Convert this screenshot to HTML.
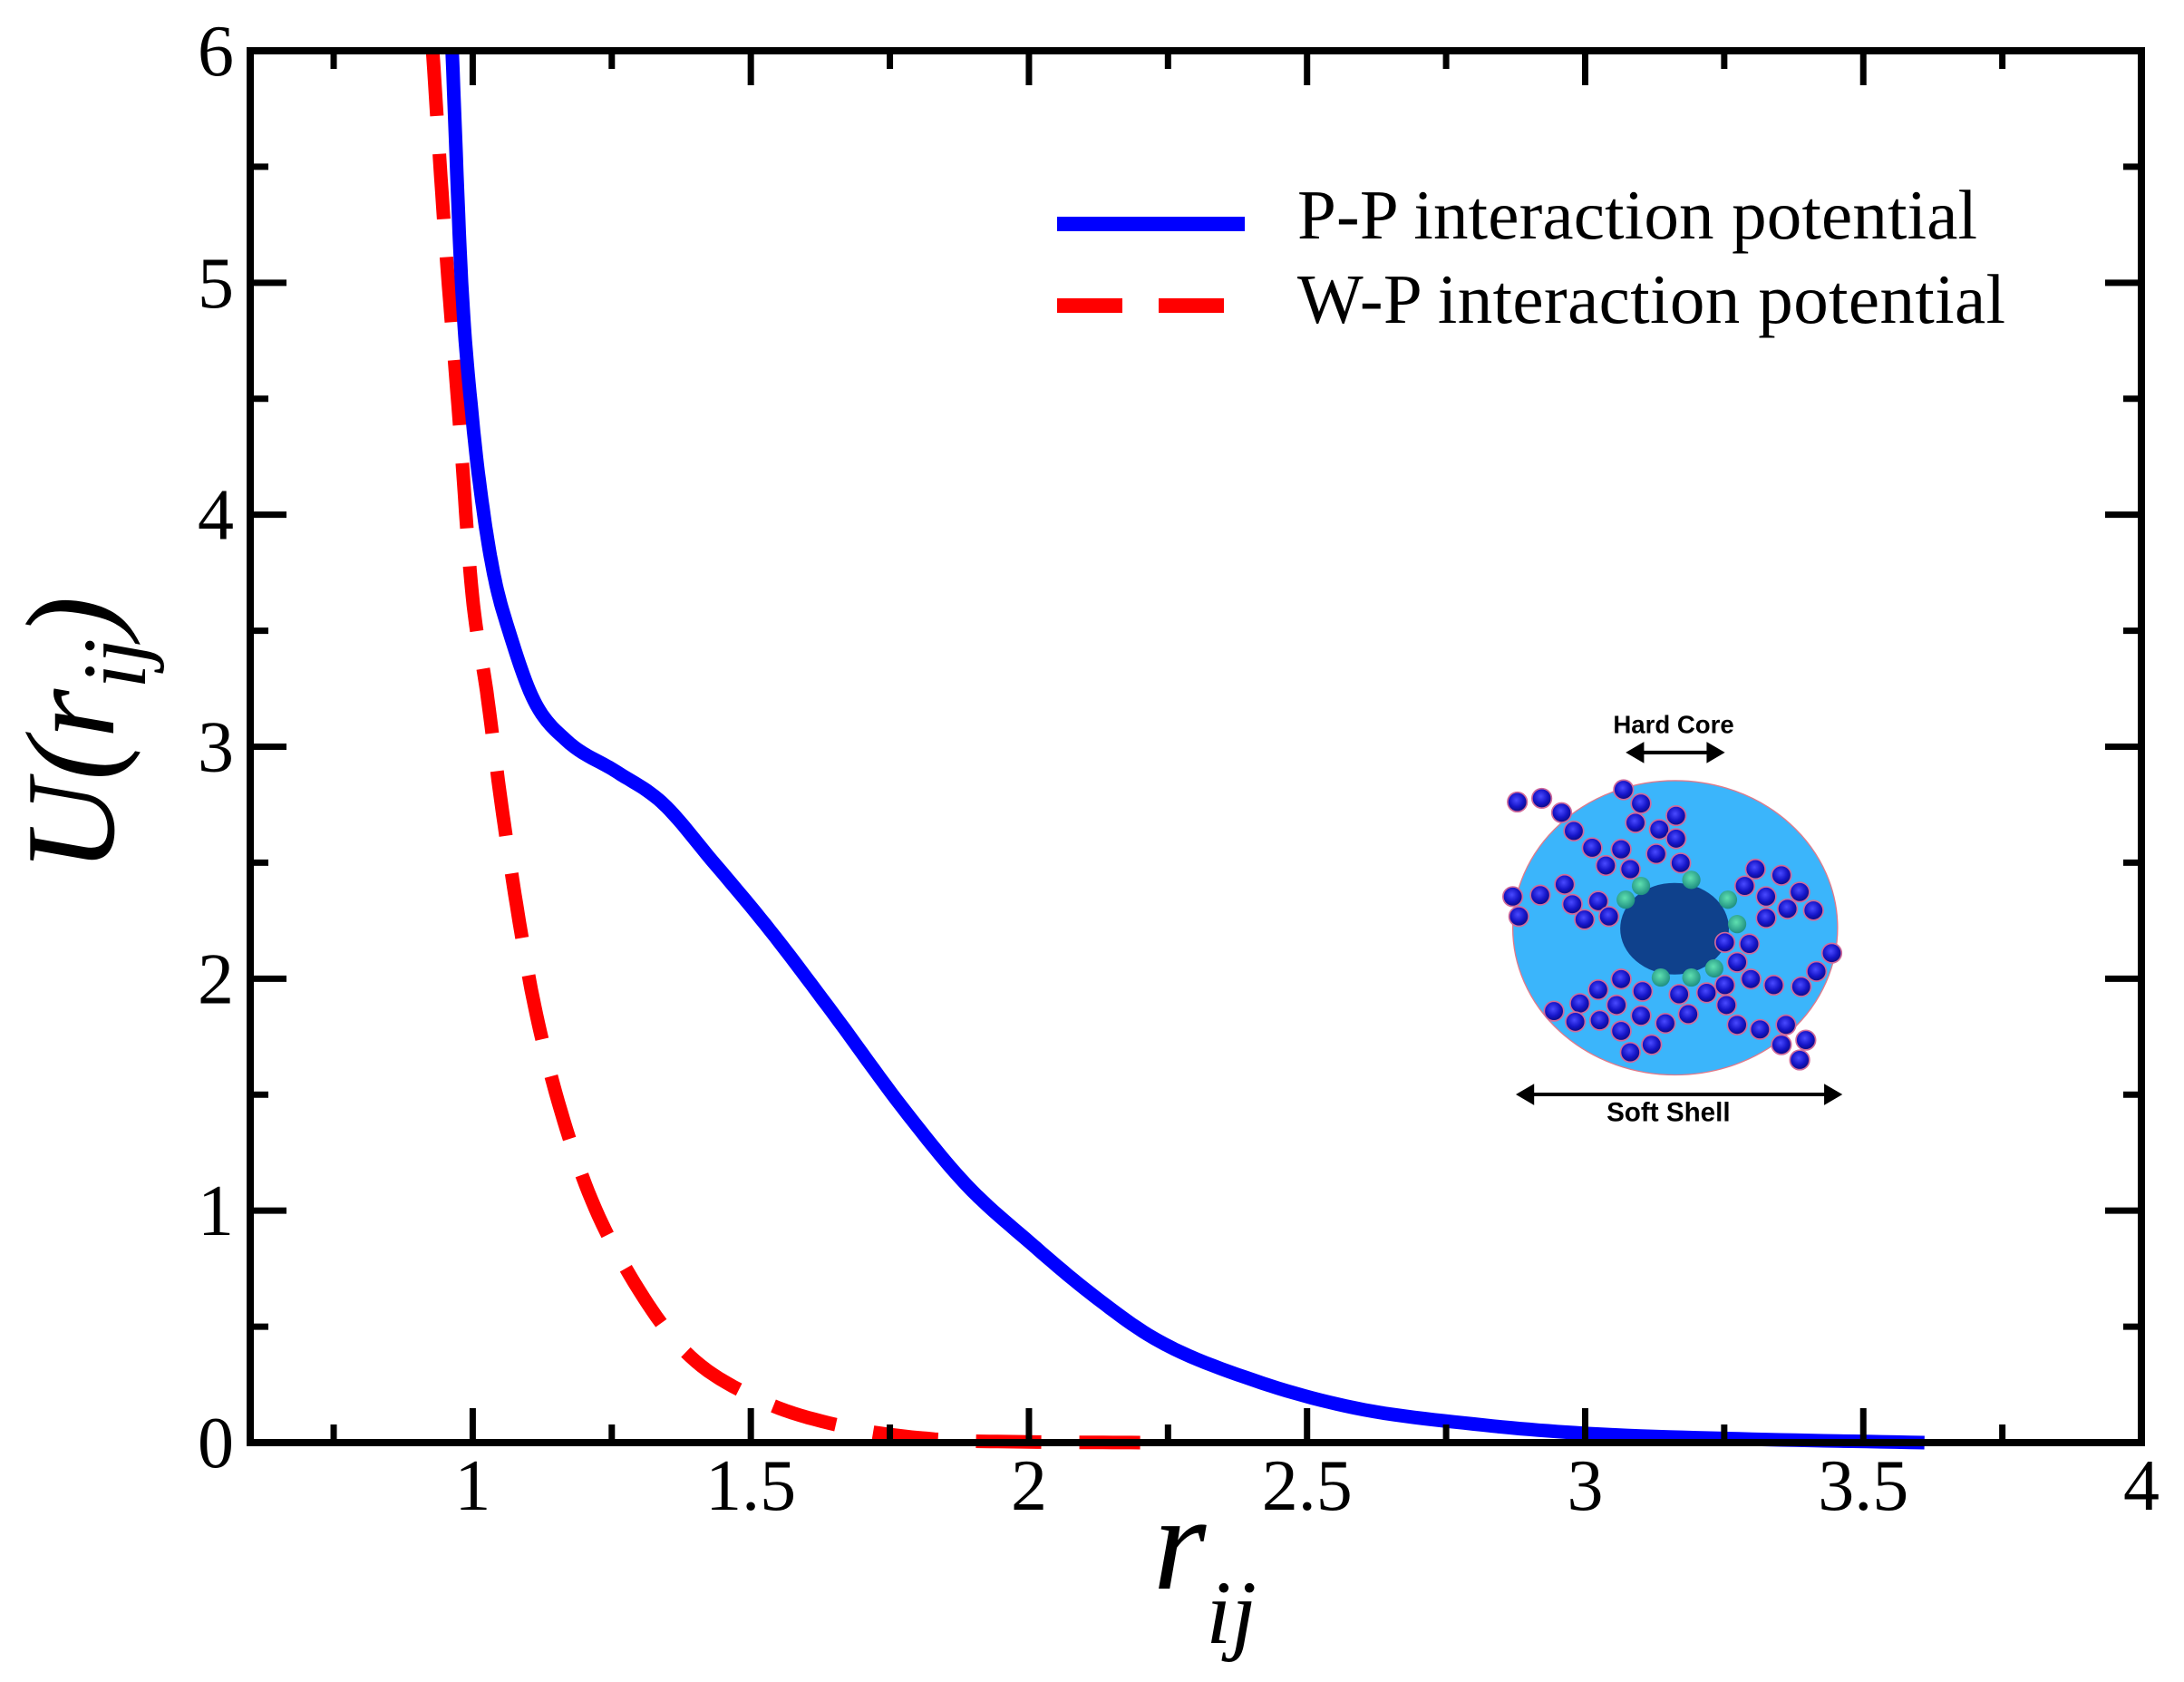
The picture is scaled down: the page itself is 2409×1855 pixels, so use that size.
<!DOCTYPE html>
<html><head><meta charset="utf-8"><style>
html,body{margin:0;padding:0;background:#fff;}
svg{display:block;}
</style></head><body>
<svg id="chart" width="2409" height="1855" viewBox="0 0 2409 1855" xmlns="http://www.w3.org/2000/svg">
<rect x="0" y="0" width="2409" height="1855" fill="#fff"/>
<g id="plot"></g>
<g id="axes"></g>
<g id="legend">
  <line x1="1166" y1="247" x2="1373" y2="247" stroke="#0000ff" stroke-width="16"/>
  <text x="1431" y="263" font-family="'Liberation Serif',serif" font-size="77" textLength="750">P-P interaction potential</text>
  <line x1="1166" y1="337" x2="1352" y2="337" stroke="#ff0000" stroke-width="16" stroke-dasharray="72 40"/>
  <text x="1431" y="356" font-family="'Liberation Serif',serif" font-size="77" textLength="781">W-P interaction potential</text>
</g>
<text transform="translate(125,962) rotate(-90)" font-family="'Liberation Serif',serif" font-style="italic" font-size="140">U(r<tspan font-size="100" dy="35">ij</tspan><tspan dy="-35">)</tspan></text>
<text x="1272" y="1752" font-family="'Liberation Serif',serif" font-style="italic" font-size="150">r<tspan font-size="100" dy="60">ij</tspan></text>
<g id="inset" transform="translate(1640,770) scale(0.3367)"></g>
</svg>
<script>
// ---- data ----
const ppR = [0.963,0.98,1.0,1.02,1.04,1.065,1.11,1.167,1.26,1.34,1.43,1.534,1.648,1.774,1.888,2.003,2.118,2.232,2.403,2.585,2.8,3.0,3.3,3.61];
const ppU = [6.0,5.0,4.4,4.0,3.72,3.5,3.2,3.03,2.89,2.76,2.51,2.21,1.85,1.44,1.11,0.86,0.63,0.44,0.27,0.15,0.08,0.04,0.015,0.0];
const wpR = [0.928,0.95,0.976,0.999,1.025,1.05,1.076,1.108,1.149,1.208,1.283,1.379,1.511,1.666,1.83,2.0,2.2];
const wpU = [6.0,5.2,4.4,3.66,3.24,2.78,2.36,1.92,1.51,1.08,0.72,0.40,0.19,0.07,0.015,0.003,0.0];
const xTicks = [1,1.5,2,2.5,3,3.5,4];
const xTickLabels = ["1","1.5","2","2.5","3","3.5","4"];
const yTicks = [0,1,2,3,4,5,6];
const yTickLabels = ["0","1","2","3","4","5","6"];

const NS = "http://www.w3.org/2000/svg";
const X0 = 276, X1 = 2362, Y0 = 1591, Y1 = 56;
const xMin = 0.6, xMax = 4, yMin = 0, yMax = 6;
function sx(v){ return X0 + (v - xMin) / (xMax - xMin) * (X1 - X0); }
function sy(v){ return Y0 - (v - yMin) / (yMax - yMin) * (Y0 - Y1); }
function mk(tag, attrs, parent){ const e = document.createElementNS(NS, tag); for (const k in attrs) e.setAttribute(k, attrs[k]); parent.appendChild(e); return e; }

// monotone cubic (Fritsch-Carlson) in data space, sampled
function monoPath(xs, ys){
  const n = xs.length, d = [], m = [];
  for (let i=0;i<n-1;i++) d.push((ys[i+1]-ys[i])/(xs[i+1]-xs[i]));
  m.push(d[0]);
  for (let i=1;i<n-1;i++) m.push(d[i-1]*d[i] <= 0 ? 0 : (d[i-1]+d[i])/2);
  m.push(d[n-2]);
  for (let i=0;i<n-1;i++){
    if (d[i] === 0){ m[i]=0; m[i+1]=0; continue; }
    const a = m[i]/d[i], b = m[i+1]/d[i], s = a*a+b*b;
    if (s > 9){ const t = 3/Math.sqrt(s); m[i]=t*a*d[i]; m[i+1]=t*b*d[i]; }
  }
  let path = "M" + sx(xs[0]).toFixed(1) + "," + sy(ys[0]).toFixed(1);
  for (let i=0;i<n-1;i++){
    const h = xs[i+1]-xs[i];
    for (let k=1;k<=12;k++){
      const t = k/12, t2=t*t, t3=t2*t;
      const y = (2*t3-3*t2+1)*ys[i] + (t3-2*t2+t)*h*m[i] + (-2*t3+3*t2)*ys[i+1] + (t3-t2)*h*m[i+1];
      path += " L" + sx(xs[i]+t*h).toFixed(1) + "," + sy(y).toFixed(1);
    }
  }
  return path;
}
const plot = document.getElementById('plot');
const clip = mk('clipPath', {id:'clp'}, plot);
mk('rect', {x:X0, y:Y1, width:X1-X0, height:Y0-Y1+10}, clip);
const wp = mk('path', {d:monoPath(wpR, wpU), fill:'none', stroke:'#ff0000', 'stroke-width':15, 'stroke-dasharray':'72 42', 'stroke-linejoin':'round', 'clip-path':'url(#clp)'}, plot);


const pp = mk('path', {d:monoPath(ppR, ppU), fill:'none', stroke:'#0000ff', 'stroke-width':15, 'stroke-linejoin':'round', 'clip-path':'url(#clp)'}, plot);



// ---- axes ----
const axes = document.getElementById('axes');
const frame = mk('rect', {x:X0, y:Y1, width:X1-X0, height:Y0-Y1, fill:'none', stroke:'#000', 'stroke-width':8}, axes);


for (let v = 0.75; v <= 3.76; v += 0.25){
  const major = Math.abs(v*2 - Math.round(v*2)) < 1e-6;
  const L = major ? 38 : 20;
  const t1 = mk('line', {x1:sx(v), x2:sx(v), y1:Y0, y2:Y0-L, stroke:'#000', 'stroke-width':7}, axes);
  
  
  const t2 = mk('line', {x1:sx(v), x2:sx(v), y1:Y1, y2:Y1+L, stroke:'#000', 'stroke-width':7}, axes);
  
  
}
for (let v = 0.5; v < 6; v += 0.5){
  const major = Math.abs(v - Math.round(v)) < 1e-6;
  const L = major ? 40 : 20;
  const t1 = mk('line', {x1:X0, x2:X0+L, y1:sy(v), y2:sy(v), stroke:'#000', 'stroke-width':7}, axes);
  
  
  const t2 = mk('line', {x1:X1, x2:X1-L, y1:sy(v), y2:sy(v), stroke:'#000', 'stroke-width':7}, axes);
  
  
}
xTicks.forEach((v,i)=>{
  const t = mk('text', {x:sx(v), y:1665, 'text-anchor':'middle', 'font-family':"'Liberation Serif',serif", 'font-size':80}, axes);
  t.textContent = xTickLabels[i];
  
  
});
yTicks.forEach((v,i)=>{
  const t = mk('text', {x:258, y:sy(v)+27, 'text-anchor':'end', 'font-family':"'Liberation Serif',serif", 'font-size':80}, axes);
  t.textContent = yTickLabels[i];
  
  
});

// ---- inset illustration ----
const inset = document.getElementById('inset');
const defs = mk('defs', {}, inset);
const g1 = mk('radialGradient', {id:'bead', cx:'0.45', cy:'0.4', r:'0.6'}, defs);
mk('stop', {offset:'0', 'stop-color':'#4a4aff'}, g1);
mk('stop', {offset:'0.6', 'stop-color':'#1515c8'}, g1);
mk('stop', {offset:'1', 'stop-color':'#0a0a80'}, g1);
const g2 = mk('radialGradient', {id:'gbead', cx:'0.45', cy:'0.4', r:'0.6'}, defs);
mk('stop', {offset:'0', 'stop-color':'#5fe0b0'}, g2);
mk('stop', {offset:'1', 'stop-color':'#1f8f80'}, g2);
const shell = mk('ellipse', {cx:617, cy:752, rx:532, ry:482, fill:'#3bb5fb', stroke:'#e07a8a', 'stroke-width':4}, inset);


const core = mk('ellipse', {cx:615, cy:755, rx:178, ry:150, fill:'#0f418c'}, inset);


const beadPos = [[100,340],[180,328],[245,375],[285,435],[345,490],[390,548],[440,495],[470,560],[448,300],[505,345],[487,408],[565,430],[620,385],[620,460],[555,510],[635,540],
[85,650],[105,715],[175,645],[255,610],[280,675],[320,725],[365,665],[400,715],
[880,560],[965,580],[845,615],[915,650],[1025,635],[985,690],[1070,695],[915,720],
[860,805],[820,865],[780,800],[1130,835],[1080,895],[1030,945],[940,940],[865,920],[780,940],[720,965],[630,970],[510,960],[440,920],[365,955],[305,1000],[220,1025],[290,1060],[370,1055],[425,1005],[505,1040],[585,1065],[660,1035],[785,1005],[820,1070],[895,1085],[980,1070],[965,1135],[1045,1120],[1025,1185],[540,1135],[470,1160],[440,1090]];
beadPos.forEach(p=>{
  const c = mk('circle', {cx:p[0], cy:p[1], r:32, fill:'url(#bead)', stroke:'#d06a9a', 'stroke-width':5}, inset);
  
  
});
const gPos = [[455,660],[505,615],[670,595],[790,660],[820,740],[745,885],[670,915],[570,915]];
gPos.forEach(p=>{
  const c = mk('circle', {cx:p[0], cy:p[1], r:30, fill:'url(#gbead)'}, inset);
  
  
});
function arrow(x1, x2, y, name){
  const g = mk('g', {}, inset);
  
  
  mk('line', {x1:x1+40, x2:x2-40, y1:y, y2:y, stroke:'#000', 'stroke-width':12}, g);
  mk('polygon', {points:`${x1},${y} ${x1+60},${y-35} ${x1+60},${y+35}`, fill:'#000'}, g);
  mk('polygon', {points:`${x2},${y} ${x2-60},${y-35} ${x2-60},${y+35}`, fill:'#000'}, g);
}
arrow(455, 780, 178, 'hard-core-arrow');
arrow(95, 1165, 1298, 'soft-shell-arrow');
const hc = mk('text', {x:612, y:115, 'text-anchor':'middle', 'font-family':"'Liberation Sans',sans-serif", 'font-weight':'bold', 'font-size':82}, inset);
hc.textContent = 'Hard Core';


const ss = mk('text', {x:595, y:1385, 'text-anchor':'middle', 'font-family':"'Liberation Sans',sans-serif", 'font-weight':'bold', 'font-size':88}, inset);
ss.textContent = 'Soft Shell';


</script>
</body></html>
